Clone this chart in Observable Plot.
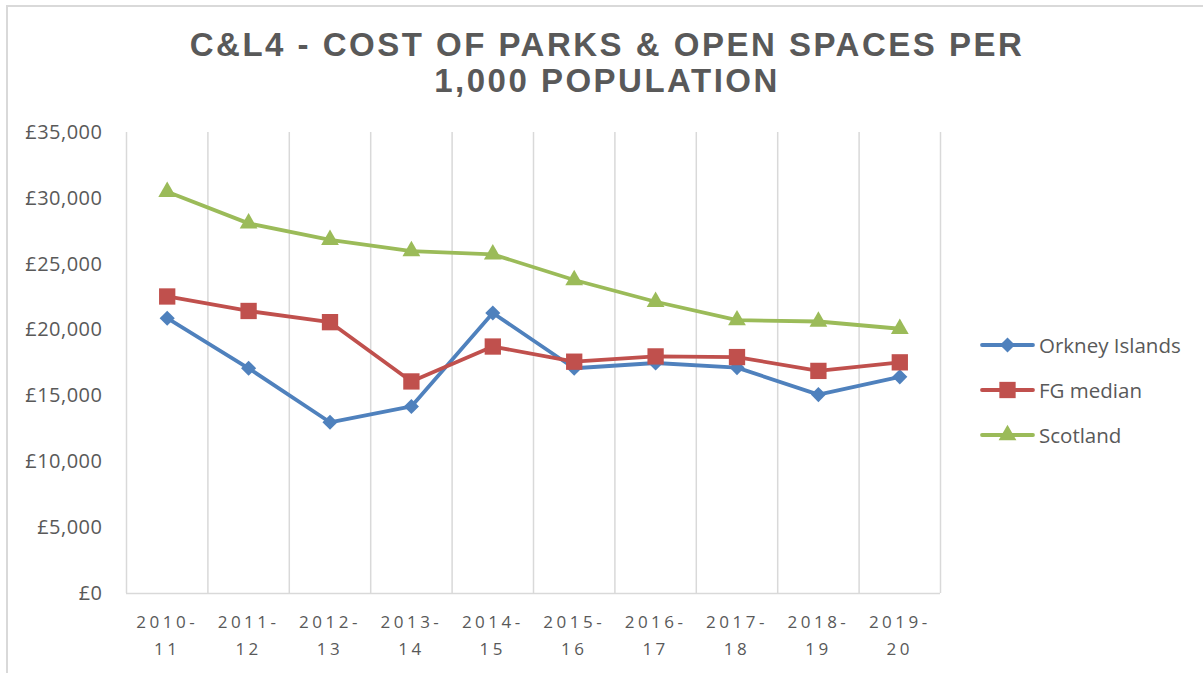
<!DOCTYPE html>
<html>
<head>
<meta charset="utf-8">
<script src="https://cdn.jsdelivr.net/npm/d3@7"></script>
<script src="https://cdn.jsdelivr.net/npm/@observablehq/plot@0.6"></script>
<style>
  body { margin: 0; background: #fff; }
  #wrap { position: relative; width: 1203px; height: 673px; overflow: hidden; background: #fff; font-family: "Open Sans", sans-serif; }
  #border { position: absolute; left: 6px; top: 5px; width: 1400px; height: 900px; border: 2px solid #d9d9d9; box-sizing: border-box; }
  #title { position: absolute; left: 0; top: 27px; width: 1214px; text-align: center; font-family: "Liberation Sans", Arial, sans-serif; font-weight: bold; font-size: 33px; line-height: 36px; letter-spacing: 2.5px; color: #595959; }
  #chart { position: absolute; left: 0; top: 108px; }
  #chart g[aria-label="x-axis tick label"] text { letter-spacing: 3.5px; }
  #chart g[aria-label="y-axis tick label"] text { letter-spacing: 0.5px; }
  #legend { position: absolute; left: 980px; top: 0; }
  .item { position: absolute; left: 0; height: 30px; display: flex; align-items: center; white-space: nowrap; font-size: 20.5px; color: #595959; }
  .item svg { margin-right: 4px; }
</style>
</head>
<body>
<div id="wrap">
  <div id="border"></div>
  <div id="title">C&amp;L4 - COST OF PARKS &amp; OPEN SPACES PER<br>1,000 POPULATION</div>
  <div id="chart"></div>
  <div id="legend"></div>
</div>
<script>
const categories = ["2010-\n11","2011-\n12","2012-\n13","2013-\n14","2014-\n15","2015-\n16","2016-\n17","2017-\n18","2018-\n19","2019-\n20"];
const seriesNames = ["Orkney Islands", "FG median", "Scotland"];
const orkney = [20900, 17100, 13000, 14200, 21300, 17100, 17500, 17150, 15100, 16450];
const fgMedian = [22550, 21450, 20600, 16100, 18750, 17600, 18000, 17950, 16900, 17550];
const scotland = [30500, 28100, 26850, 26000, 25750, 23800, 22150, 20750, 20650, 20100];
const colors = ["#4F81BD", "#C0504D", "#9BBB59"];
const symbols = ["diamond2", "square", "triangle"];
const yTicks = [0, 5000, 10000, 15000, 20000, 25000, 30000, 35000];

const seriesValues = [orkney, fgMedian, scotland];
const rows = [];
seriesNames.forEach((s, k) => seriesValues[k].forEach((v, i) => rows.push({series: s, i, value: v})));
const radii = {"Orkney Islands": 6.8, "FG median": 9.2, "Scotland": 6.6};

const plot = Plot.plot({
  width: 960,
  height: 565,
  marginTop: 24,
  marginBottom: 80,
  marginLeft: 126,
  marginRight: 20,
  style: {fontFamily: "Open Sans, sans-serif", color: "#595959", background: "transparent", overflow: "visible"},
  x: {domain: [-0.5, categories.length - 0.5], axis: null},
  y: {domain: [0, 35000], axis: null},
  color: {domain: seriesNames, range: colors},
  symbol: {domain: seriesNames, range: symbols},
  marks: [
    Plot.ruleX(d3.range(categories.length + 1).map(i => i - 0.5), {stroke: "#d9d9d9", strokeWidth: 1.5}),
    Plot.ruleY([0], {stroke: "#d9d9d9", strokeWidth: 1.5}),
    Plot.axisY({ticks: yTicks, tickFormat: d => "£" + d3.format(",")(d), tickSize: 0, tickPadding: 24, fontSize: 20, fill: "#595959", label: null}),
    Plot.axisX(d3.range(categories.length), {tickFormat: i => categories[i], tickSize: 0, tickPadding: 16, fontSize: 17, lineHeight: 1.55, fill: "#595959", label: null}),
    Plot.line(rows, {x: "i", y: "value", z: "series", stroke: "series", strokeWidth: 3.8, strokeLinejoin: "round"}),
    ...seriesNames.map(s => Plot.dot(rows.filter(d => d.series === s), {x: "i", y: "value", fill: "series", symbol: "series", r: radii[s], stroke: "none"}))
  ]
});
document.getElementById("chart").appendChild(plot);

// legend
const legend = document.getElementById("legend");
const legendY = [345, 390, 435];
seriesNames.forEach((s, k) => {
  const item = document.createElement("div");
  item.className = "item";
  item.style.top = (legendY[k] - 15) + "px";
  const sym = d3.symbol(d3["symbol" + {diamond2: "Diamond2", square: "Square", triangle: "Triangle"}[symbols[k]]], Math.PI * radii[s] * radii[s])();
  item.innerHTML = `<svg width="55" height="30"><line x1="2" x2="53" y1="15" y2="15" stroke="${colors[k]}" stroke-width="3.8" stroke-linecap="round"/><path d="${sym}" transform="translate(27.5,15)" fill="${colors[k]}"/></svg><span>${s}</span>`;
  legend.appendChild(item);
});
</script>
</body>
</html>
